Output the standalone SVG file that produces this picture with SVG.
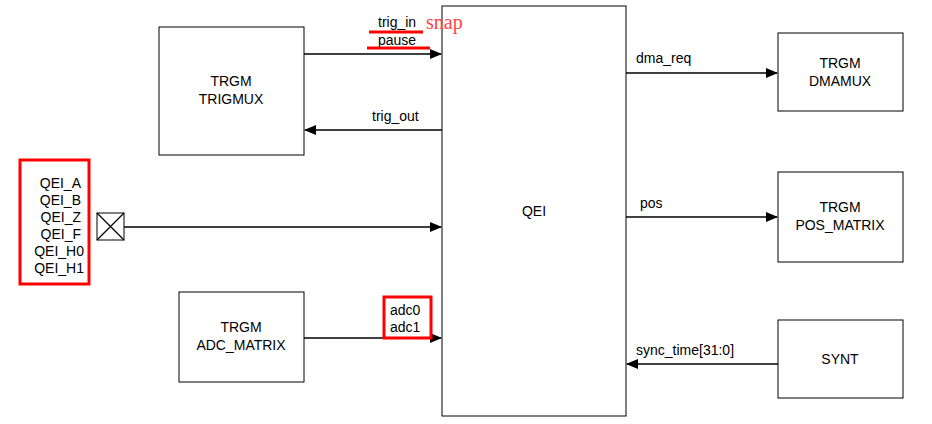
<svg xmlns="http://www.w3.org/2000/svg" width="932" height="424" viewBox="0 0 932 424">
<style>
.b{fill:#fff;stroke:#000;stroke-width:1}
.t{font-family:"Liberation Sans",Arial,sans-serif;font-size:14px;fill:#000}
.c{stroke:#000;stroke-width:1.3;fill:none}
.r{fill:none;stroke:#f00;stroke-width:3}
</style>
<defs><marker id="a" markerWidth="12" markerHeight="10" refX="11" refY="5" orient="auto" markerUnits="userSpaceOnUse"><path d="M0,0L12,5L0,10Z" fill="#000"/></marker></defs>
<rect width="932" height="424" fill="#fff"/>
<g id="qei"><rect class="b" x="442" y="6" width="184" height="410"/><text class="t" x="534" y="216" text-anchor="middle">QEI</text></g>
<g id="trigmux"><rect class="b" x="159" y="27" width="145" height="128"/><text class="t" x="231" y="86" text-anchor="middle">TRGM</text><text class="t" x="231" y="104" text-anchor="middle">TRIGMUX</text></g>
<g id="adc"><rect class="b" x="179" y="292" width="125" height="90"/><text class="t" x="241" y="332" text-anchor="middle">TRGM</text><text class="t" x="241" y="350" text-anchor="middle">ADC_MATRIX</text></g>
<g id="dmamux"><rect class="b" x="778" y="33" width="125" height="78"/><text class="t" x="840" y="68" text-anchor="middle">TRGM</text><text class="t" x="840" y="86" text-anchor="middle">DMAMUX</text></g>
<g id="pos"><rect class="b" x="778" y="172" width="125" height="90"/><text class="t" x="840" y="212" text-anchor="middle">TRGM</text><text class="t" x="840" y="230" text-anchor="middle">POS_MATRIX</text></g>
<g id="synt"><rect class="b" x="778" y="320" width="125" height="78"/><text class="t" x="840" y="364" text-anchor="middle">SYNT</text></g>
<g id="pins">
<rect class="r" x="20" y="160" width="69" height="124"/>
<g class="t" text-anchor="end"><text x="81" y="188">QEI_A</text><text x="81" y="205">QEI_B</text><text x="81" y="222">QEI_Z</text><text x="81" y="239">QEI_F</text><text x="84" y="256">QEI_H0</text><text x="84" y="273">QEI_H1</text></g>
<rect class="b" x="97" y="213" width="27" height="27" stroke-width="1.3"/><path class="c" d="M97,213L124,240M124,213L97,240"/>
</g>
<g id="connectors">
<path class="c" d="M304,54H441" marker-end="url(#a)"/>
<path class="c" d="M442,130H305" marker-end="url(#a)"/>
<path class="c" d="M124,227H441" marker-end="url(#a)"/>
<path class="c" d="M304,338H441" marker-end="url(#a)"/>
<path class="c" d="M626,73H777" marker-end="url(#a)"/>
<path class="c" d="M626,217H777" marker-end="url(#a)"/>
<path class="c" d="M778,364H627" marker-end="url(#a)"/>
</g>
<g id="labels" class="t">
<text x="378" y="27">trig_in</text><text x="378" y="45">pause</text>
<text x="372" y="121">trig_out</text>
<text x="390" y="315">adc0</text><text x="390" y="332">adc1</text>
<text x="636" y="63">dma_req</text><text x="640" y="208">pos</text><text x="636" y="355">sync_time[31:0]</text>
</g>
<text x="426" y="29" font-family="Liberation Serif,serif" font-size="20" fill="#f44">snap</text>
<path d="M369,32H423M367,48H430" stroke="#f00" stroke-width="3"/>
<rect class="r" x="384" y="297" width="47" height="41"/>
</svg>
